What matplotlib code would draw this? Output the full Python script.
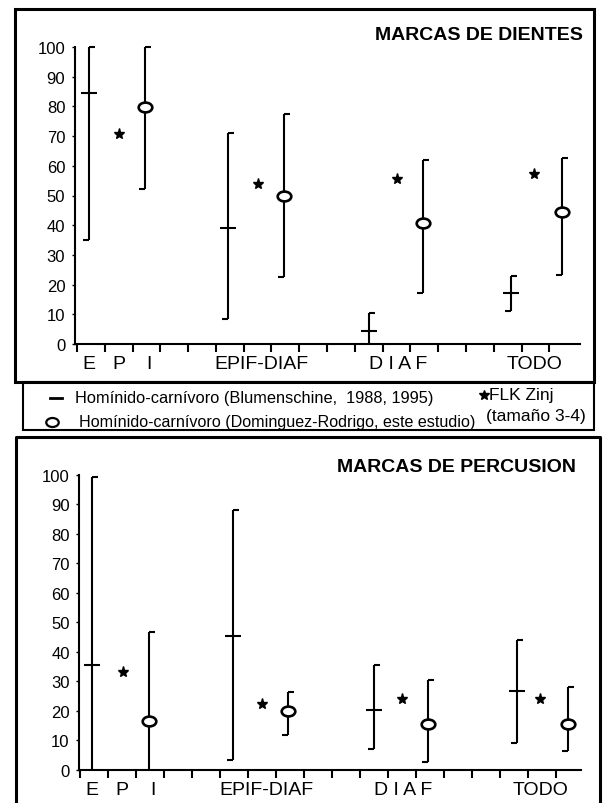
import numpy as np
import matplotlib
matplotlib.use("Agg")
import matplotlib.pyplot as plt
from matplotlib.path import Path
from matplotlib.transforms import Affine2D
from matplotlib.patches import Rectangle

plt.rcParams['font.family'] = ['Liberation Sans', 'DejaVu Sans']

# ---- data -------------------------------------------------------------
# x positions on the 0..17 tick scale
blum_x = [0.43, 5.45, 10.5, 15.6]
dom_x = [2.45, 7.45, 12.45, 17.45]
flk_x = [1.52, 6.52, 11.52, 16.45]

label_pos = [0.43, 1.5, 2.6, 6.65, 11.55, 16.45]
label_txt = ["E", "P", "I", "EPIF-DIAF", "D I A F", "TODO"]

# tooth marks (MARCAS DE DIENTES)
teeth_blum_mean = [84.5, 39, 4.5, 17.3]
teeth_blum_low = [35, 8.5, 0, 11]
teeth_blum_high = [100, 71, 10.3, 23]
teeth_dom_mean = [79.7, 49.8, 40.7, 44.3]
teeth_dom_low = [52.3, 22.5, 17.2, 23.4]
teeth_dom_high = [100, 77.6, 61.8, 62.6]
teeth_flk = [70.8, 54, 55.6, 57.4]

# percussion marks (MARCAS DE PERCUSION)
perc_blum_mean = [35.5, 45.3, 20.3, 26.7]
perc_blum_low = [0, 3.3, 7, 9]
perc_blum_high = [99.2, 88, 35.6, 44]
perc_dom_mean = [16.6, 20, 15.5, 15.7]
perc_dom_low = [0, 12, 2.7, 6.3]
perc_dom_high = [46.8, 26.4, 30.6, 28.2]
perc_flk = [33.2, 22.3, 24.1, 24.1]

# ---- marker shapes ----------------------------------------------------
cap_top = Path([(0, 0), (1, 0)], [Path.MOVETO, Path.LINETO])
cap_bot = Path([(-1, 0), (0, 0)], [Path.MOVETO, Path.LINETO])
ellipse = Affine2D().scale(1, 0.72).transform_path(Path.unit_circle())

LW = 1.5


def draw_bars(ax, x, mean, low, high, kind):
    for xi, m, lo, hi in zip(x, mean, low, high):
        ax.plot([xi, xi], [lo, hi], color='black', lw=LW, clip_on=False,
                solid_capstyle='butt', zorder=3)
        ax.plot([xi], [hi], marker=cap_top, ms=9, mew=LW, color='black',
                clip_on=False, zorder=3)
        if lo > 0.5:
            ax.plot([xi], [lo], marker=cap_bot, ms=9, mew=LW, color='black',
                    clip_on=False, zorder=3)
        if kind == 'dash':
            ax.plot([xi], [m], marker='_', ms=11.5, mew=LW, color='black',
                    clip_on=False, zorder=4)
        else:
            ax.plot([xi], [m], marker=ellipse, ms=9.8, mew=1.9,
                    mfc='white', mec='black', clip_on=False, zorder=5)


def setup_axes(ax, xmin, xmax):
    ax.set_xlim(xmin, xmax)
    ax.set_ylim(0, 100)
    for s in ['top', 'right']:
        ax.spines[s].set_visible(False)
    ax.spines['left'].set_linewidth(LW)
    ax.spines['bottom'].set_linewidth(LW)
    ax.patch.set_alpha(0)
    ax.set_yticks(np.arange(0, 101, 10))
    ax.tick_params(axis='y', length=2, width=1, labelsize=12, pad=5)
    ax.set_xticks(np.arange(0, 18), minor=True)
    ax.set_xticks(label_pos)
    ax.set_xticklabels(label_txt)
    ax.tick_params(axis='x', which='major', length=0, labelsize=14, pad=8)
    ax.tick_params(axis='x', which='minor', length=6, width=LW, direction='out')


fig = plt.figure(figsize=(6.07, 8.04), dpi=100)

# background layer in pixel coordinates for frames, titles and legend
bg = fig.add_axes([0, 0, 1, 1])
bg.set_xlim(0, 607)
bg.set_ylim(804, 0)
bg.axis('off')

bg.add_patch(Rectangle((14.5, 10), 579.5, 373, fill=False, lw=2.2, ec='black'))
bg.add_patch(Rectangle((23, 383), 571, 48, fill=False, lw=1.5, ec='black'))
bg.plot([16, 16, 600, 600], [806, 438, 438, 806], color='black', lw=2.2)

bg.text(583, 35, "MARCAS DE DIENTES", ha='right', va='center',
        fontsize=14, fontweight='bold')
bg.text(576, 468, "MARCAS DE PERCUSION", ha='right', va='center',
        fontsize=14, fontweight='bold')

# legend
bg.plot([50, 62], [399, 399], color='black', lw=2)
bg.plot([52], [423], marker=ellipse, ms=9, mew=1.6, mfc='white', mec='black')
bg.text(75, 399, "Homínido-carnívoro (Blumenschine,  1988, 1995)",
        ha='left', va='center', fontsize=11.8)
bg.text(79, 423, "Homínido-carnívoro (Dominguez-Rodrigo, este estudio)",
        ha='left', va='center', fontsize=11.6)
bg.plot([484], [396], marker='*', ms=7, color='black')
bg.text(489, 396, "FLK Zinj", ha='left', va='center', fontsize=12.5)
bg.text(486, 417, "(tamaño 3-4)", ha='left', va='center', fontsize=12.5)

# top panel
ax1 = fig.add_axes([75 / 607, 1 - 345 / 804, 505 / 607, 297 / 804])
setup_axes(ax1, -0.07, 18.1)
draw_bars(ax1, blum_x, teeth_blum_mean, teeth_blum_low, teeth_blum_high, 'dash')
draw_bars(ax1, dom_x, teeth_dom_mean, teeth_dom_low, teeth_dom_high, 'ellipse')
ax1.plot(flk_x, teeth_flk, linestyle='none', marker='*', ms=8, color='black')

# bottom panel
ax2 = fig.add_axes([79.4 / 607, 1 - 771 / 804, 501.6 / 607, 295.3 / 804])
setup_axes(ax2, -0.02, 17.9)
draw_bars(ax2, blum_x, perc_blum_mean, perc_blum_low, perc_blum_high, 'dash')
draw_bars(ax2, dom_x, perc_dom_mean, perc_dom_low, perc_dom_high, 'ellipse')
ax2.plot(flk_x, perc_flk, linestyle='none', marker='*', ms=8, color='black')

fig.savefig("out.png", dpi=100)
